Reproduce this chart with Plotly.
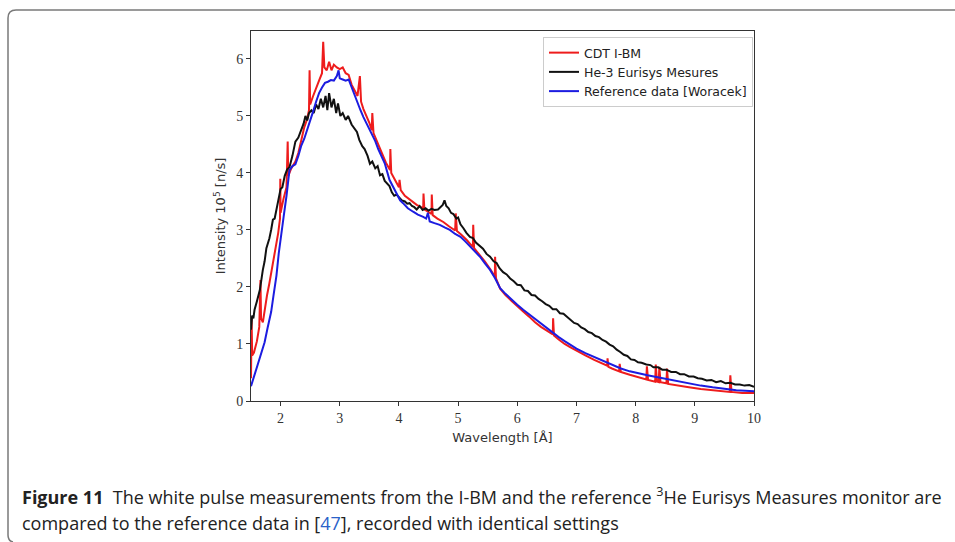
import plotly.graph_objects as go

# ---------------- data ----------------
red_x = [1.50, 1.51, 1.52, 1.55, 1.60, 1.64, 1.66, 1.67, 1.70, 1.73, 1.77, 1.81, 1.85, 1.90, 1.96, 1.99, 1.995, 2.00,
         2.05, 2.10, 2.12, 2.13, 2.18, 2.25, 2.30, 2.35, 2.40, 2.45, 2.48, 2.49, 2.50, 2.55, 2.60, 2.65, 2.70, 2.72,
         2.74, 2.78, 2.82, 2.86, 2.90, 2.95, 3.00, 3.05, 3.10, 3.15, 3.20, 3.25, 3.30, 3.34, 3.36, 3.40, 3.45, 3.50,
         3.54, 3.55, 3.57, 3.62, 3.67, 3.72, 3.78, 3.85, 3.855, 3.87, 3.93, 4.00, 4.01, 4.03, 4.10, 4.20, 4.30, 4.41,
         4.415, 4.43, 4.50, 4.55, 4.555, 4.57, 4.65, 4.75, 4.85, 4.95, 4.96, 4.98, 5.05, 5.15, 5.25, 5.255, 5.27,
         5.35, 5.45, 5.55, 5.62, 5.625, 5.64, 5.71, 5.80, 5.90, 6.00, 6.10, 6.20, 6.30, 6.40, 6.50, 6.60, 6.605,
         6.62, 6.70, 6.80, 6.90, 7.00, 7.15, 7.30, 7.45, 7.52, 7.525, 7.54, 7.60, 7.72, 7.73, 7.75, 7.90, 8.05,
         8.18, 8.19, 8.21, 8.33, 8.34, 8.36, 8.39, 8.40, 8.42, 8.52, 8.53, 8.55, 8.70, 8.90, 9.10, 9.30, 9.50,
         9.59, 9.60, 9.62, 9.80, 10.0]
red_y = [0.40, 1.45, 0.80, 0.85, 1.05, 1.30, 2.12, 1.45, 1.38, 1.60, 1.85, 2.06, 2.30, 2.55, 2.95, 3.20, 3.90, 3.30,
         3.55, 3.75, 4.55, 3.95, 4.08, 4.20, 4.35, 4.60, 4.80, 4.95, 5.10, 5.80, 5.20, 5.35, 5.50, 5.62, 5.75, 6.30,
         5.85, 5.80, 5.95, 5.80, 5.90, 5.85, 5.82, 5.85, 5.75, 5.72, 5.55, 5.45, 5.35, 5.70, 5.25, 5.12, 5.00, 4.88,
         4.75, 5.05, 4.70, 4.58, 4.45, 4.32, 4.18, 4.05, 4.42, 4.00, 3.88, 3.75, 3.88, 3.70, 3.60, 3.52, 3.44, 3.38,
         3.64, 3.36, 3.32, 3.28, 3.62, 3.26, 3.20, 3.14, 3.06, 2.99, 3.29, 2.98, 2.92, 2.82, 2.70, 3.09, 2.68,
         2.58, 2.45, 2.30, 2.18, 2.53, 2.15, 1.97, 1.86, 1.76, 1.66, 1.57, 1.48, 1.38, 1.30, 1.23, 1.17, 1.45,
         1.15, 1.08, 1.00, 0.94, 0.88, 0.80, 0.72, 0.65, 0.62, 0.75, 0.60, 0.57, 0.52, 0.65, 0.51, 0.46, 0.42,
         0.38, 0.61, 0.37, 0.34, 0.64, 0.34, 0.33, 0.60, 0.33, 0.31, 0.57, 0.30, 0.27, 0.24, 0.21, 0.19, 0.17,
         0.16, 0.45, 0.16, 0.14, 0.14]

he3_x = [1.50, 1.52, 1.54, 1.56, 1.60, 1.65, 1.70, 1.73, 1.76, 1.81, 1.84, 1.87, 1.90, 1.93, 1.97, 2.00, 2.03, 2.07,
         2.11, 2.15, 2.20, 2.25, 2.30, 2.35, 2.39, 2.42, 2.45, 2.48, 2.52, 2.56, 2.60, 2.64, 2.68, 2.72, 2.76, 2.79,
         2.82, 2.86, 2.90, 2.94, 2.97, 3.01, 3.05, 3.10, 3.14, 3.20, 3.25, 3.29, 3.33, 3.38, 3.42, 3.47, 3.51, 3.55,
         3.60, 3.64, 3.68, 3.72, 3.76, 3.80, 3.84, 3.88, 3.92, 3.96, 4.01, 4.05, 4.10, 4.14, 4.18, 4.22, 4.26, 4.30,
         4.35, 4.40, 4.45, 4.50, 4.55, 4.60, 4.66, 4.70, 4.74, 4.77, 4.80, 4.84, 4.88, 4.92, 4.97, 5.00, 5.04, 5.09,
         5.14, 5.20, 5.25, 5.30, 5.37, 5.42, 5.48, 5.54, 5.60, 5.65, 5.70, 5.76, 5.82, 5.88, 5.94, 6.00, 6.06, 6.12,
         6.18, 6.24, 6.30, 6.36, 6.42, 6.48, 6.54, 6.60, 6.66, 6.72, 6.78, 6.84, 6.90, 6.96, 7.02, 7.08, 7.14, 7.20,
         7.26, 7.32, 7.38, 7.44, 7.50, 7.56, 7.62, 7.68, 7.74, 7.80, 7.86, 7.92, 7.98, 8.04, 8.10, 8.18, 8.25, 8.30,
         8.38, 8.45, 8.52, 8.60, 8.68, 8.75, 8.82, 8.90, 8.98, 9.05, 9.12, 9.20, 9.28, 9.36, 9.44, 9.52, 9.60, 9.68,
         9.76, 9.84, 9.92, 10.0]
he3_y = [1.25, 1.50, 1.45, 1.60, 1.75, 1.95, 2.30, 2.45, 2.68, 2.85, 3.00, 3.18, 3.20, 3.35, 3.55, 3.72, 3.75, 3.95,
         4.06, 4.10, 4.30, 4.55, 4.62, 4.75, 4.87, 5.00, 4.92, 5.05, 5.10, 5.05, 5.20, 5.12, 5.30, 5.15, 5.35, 5.10,
         5.40, 5.15, 5.30, 5.05, 5.22, 5.00, 5.05, 4.93, 5.00, 4.85, 4.78, 4.72, 4.58, 4.47, 4.42, 4.30, 4.16, 4.20,
         4.08, 4.12, 3.96, 3.98, 3.86, 3.82, 3.77, 3.66, 3.60, 3.62, 3.57, 3.52, 3.50, 3.46, 3.47, 3.42, 3.40, 3.36,
         3.42, 3.35, 3.38, 3.34, 3.37, 3.35, 3.36, 3.40, 3.44, 3.52, 3.42, 3.38, 3.30, 3.28, 3.20, 3.22, 3.10, 3.03,
         2.95, 2.88, 2.86, 2.78, 2.71, 2.67, 2.58, 2.53, 2.45, 2.42, 2.33, 2.26, 2.22, 2.15, 2.10, 2.04, 2.03, 1.94,
         1.93, 1.86, 1.85, 1.79, 1.75, 1.70, 1.67, 1.61, 1.61, 1.54, 1.53, 1.48, 1.43, 1.37, 1.35, 1.29, 1.26, 1.21,
         1.19, 1.14, 1.12, 1.07, 1.04, 0.99, 0.96, 0.90, 0.86, 0.81, 0.79, 0.73, 0.72, 0.68, 0.67, 0.64, 0.63, 0.59,
         0.59, 0.55, 0.55, 0.51, 0.51, 0.47, 0.47, 0.43, 0.43, 0.40, 0.39, 0.36, 0.37, 0.33, 0.35, 0.31, 0.32, 0.29,
         0.29, 0.27, 0.28, 0.25]

ref_x = [1.50, 1.55, 1.60, 1.65, 1.70, 1.73, 1.78, 1.84, 1.88, 1.93, 1.97, 2.01, 2.05, 2.10, 2.15, 2.20, 2.25, 2.30,
         2.35, 2.40, 2.45, 2.50, 2.55, 2.60, 2.65, 2.70, 2.75, 2.80, 2.85, 2.90, 2.95, 2.98, 3.00, 3.05, 3.10, 3.15,
         3.20, 3.25, 3.30, 3.35, 3.40, 3.45, 3.50, 3.55, 3.60, 3.65, 3.70, 3.76, 3.84, 3.90, 3.96, 4.02, 4.07, 4.15,
         4.24, 4.32, 4.41, 4.46, 4.49, 4.52, 4.60, 4.69, 4.78, 4.86, 4.95, 5.04, 5.12, 5.20, 5.28, 5.37, 5.45, 5.54,
         5.62, 5.71, 5.80, 5.90, 6.00, 6.10, 6.20, 6.30, 6.40, 6.50, 6.60, 6.70, 6.80, 6.90, 7.00, 7.15, 7.30, 7.45,
         7.60, 7.75, 7.90, 8.05, 8.20, 8.35, 8.50, 8.70, 8.90, 9.10, 9.30, 9.50, 9.70, 9.85, 10.0]
ref_y = [0.26, 0.42, 0.60, 0.75, 0.90, 1.03, 1.28, 1.56, 1.85, 2.20, 2.60, 2.95, 3.22, 3.60, 4.05, 4.12, 4.15, 4.30,
         4.48, 4.60, 4.75, 4.92, 5.08, 5.25, 5.40, 5.50, 5.58, 5.60, 5.63, 5.62, 5.70, 5.80, 5.66, 5.64, 5.62, 5.64,
         5.50, 5.36, 5.22, 5.10, 4.98, 4.88, 4.78, 4.68, 4.56, 4.42, 4.30, 4.17, 3.88, 3.75, 3.64, 3.52, 3.47, 3.38,
         3.32, 3.27, 3.23, 3.20, 3.30, 3.15, 3.12, 3.09, 3.04, 3.00, 2.93, 2.88, 2.80, 2.71, 2.62, 2.53, 2.42, 2.30,
         2.16, 1.98, 1.88, 1.78, 1.69, 1.60, 1.52, 1.43, 1.35, 1.27, 1.20, 1.12, 1.05, 0.98, 0.92, 0.84, 0.77, 0.70,
         0.63, 0.57, 0.52, 0.48, 0.45, 0.42, 0.39, 0.34, 0.30, 0.27, 0.24, 0.21, 0.19, 0.18, 0.17]

series_names = ["CDT I-BM", "He-3 Eurisys Mesures", "Reference data [Woracek]"]
series_colors = ["#ee1c1c", "#111111", "#1c1ce0"]
x_ticks = [2, 3, 4, 5, 6, 7, 8, 9, 10]
y_ticks = [0, 1, 2, 3, 4, 5, 6]

# ---------------- layout geometry (pixels) ----------------
W, H = 955, 542
PL, PR, PT, PB = 251, 754, 31, 401


def px(x):
    return (x - PL) / (PR - PL)


def py(y):
    return (PB - y) / (PB - PT)


fig = go.Figure()
for xs, ys, name, col in zip([red_x, he3_x, ref_x], [red_y, he3_y, ref_y], series_names, series_colors):
    fig.add_trace(go.Scatter(x=xs, y=ys, mode="lines", name=name,
                             line=dict(color=col, width=2)))

axis_common = dict(showline=True, mirror=True, linecolor="#333333", linewidth=1,
                   ticks="outside", ticklen=4, tickcolor="#333333", showgrid=False, zeroline=False,
                   tickfont=dict(family="Liberation Serif", size=14, color="#333333"))

fig.update_layout(
    width=W, height=H,
    margin=dict(l=PL, r=W - PR, t=PT, b=H - PB, autoexpand=False),
    paper_bgcolor="white", plot_bgcolor="white",
    xaxis=dict(range=[1.5, 10], tickvals=x_ticks, **axis_common,
               title=dict(text="Wavelength [Å]", standoff=8,
                          font=dict(family="DejaVu Sans", size=13, color="#333333"))),
    yaxis=dict(range=[0, 6.49], tickvals=y_ticks, **axis_common,
               title=dict(text="Intensity 10<sup>5</sup> [n/s]", standoff=7,
                          font=dict(family="DejaVu Sans", size=13, color="#333333"))),
    legend=dict(x=px(543), y=py(37), xanchor="left", yanchor="top",
                bgcolor="white", bordercolor="#cccccc", borderwidth=1,
                font=dict(family="DejaVu Sans", size=12.5, color="#222222"),
                tracegroupgap=0, itemwidth=30),
    showlegend=True,
)

# rounded frame around the figure
r = 8
path = (f"M {px(13)} {py(542)} Q {px(8)} {py(541)} {px(8)} {py(535)} "
        f"L {px(8)} {py(10 + r)} Q {px(8)} {py(10)} {px(8 + r)} {py(10)} L {px(960)} {py(10)}")
fig.add_shape(type="path", path=path, xref="paper", yref="paper",
              line=dict(color="#7a7a7a", width=1.5), layer="above")

cap_font = dict(family="Open Sans", size=18, color="#222222")
fig.add_annotation(
    text="<b>Figure 11</b>  The white pulse measurements from the I-BM and the reference "
         "<sup>3</sup>He Eurisys Measures monitor are",
    xref="paper", yref="paper", x=px(20), y=py(496), xanchor="left", yanchor="middle",
    showarrow=False, font=cap_font, align="left")
fig.add_annotation(
    text="compared to the reference data in [<span style='color:#2a62c9'>47</span>], "
         "recorded with identical settings",
    xref="paper", yref="paper", x=px(20), y=py(523), xanchor="left", yanchor="middle",
    showarrow=False, font=cap_font, align="left")

fig.write_html("out.html")
